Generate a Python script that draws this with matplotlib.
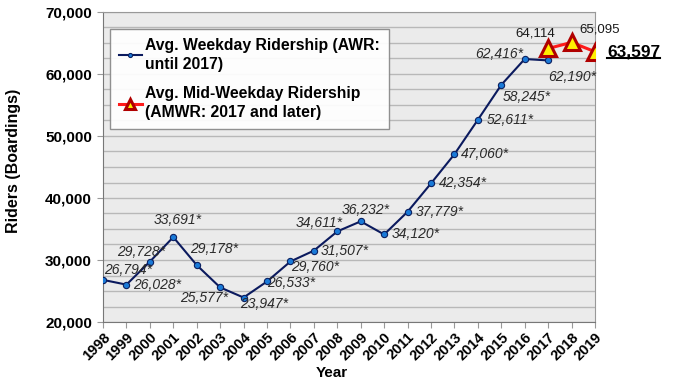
import matplotlib
matplotlib.use("Agg")
from matplotlib import pyplot as plt
from matplotlib.lines import Line2D
from matplotlib.ticker import MultipleLocator, FuncFormatter

plt.rcParams['font.family'] = ['Liberation Sans', 'DejaVu Sans']

# average weekday ridership, 1998-2017
awr_years = list(range(1998, 2018))
awr_values = [26794, 26028, 29728, 33691, 29178, 25577, 23947, 26533, 29760, 31507,
              34611, 36232, 34120, 37779, 42354, 47060, 52611, 58245, 62416, 62190]

# average mid-weekday ridership, 2017-2019
amwr_years = [2017, 2018, 2019]
amwr_values = [64114, 65095, 63597]

year_ticks = list(range(1998, 2020))

# label offsets in pixels (dx, dy), one per point
awr_offsets = [(25, 10), (31, 0), (-9, 10), (4, 17), (17, 16), (-16, -11), (21, -6),
               (24, -2), (25, -6), (31, 0), (-18, 8), (5, 11), (32, 0), (32, 0),
               (32, 0), (30, 0), (32, 0), (25, -12), (-25, 5), (24, -17)]
amwr_offsets = [(-13, 15), (28, 13)]

fig = plt.figure(figsize=(6.78, 3.81), dpi=100)
ax = fig.add_axes([103/678, 1 - 322/381, 492/678, 310/381])
ax.set_facecolor("#ebebeb")

ax.plot(awr_years, awr_values, color="#0b1a5e", lw=1.5, marker="o", ms=4.5,
        mfc="#1a7ad8", mec="#0b2060", mew=0.8, zorder=3,
        label="Avg. Weekday Ridership (AWR:\nuntil 2017)")
ax.plot(amwr_years, amwr_values, color="#ff1a1a", lw=2.2, marker="^", ms=11,
        mfc="#ffee00", mec="#b00000", mew=2.2, zorder=4,
        label="Avg. Mid-Weekday Ridership\n(AMWR: 2017 and later)")

for x, y, (dx, dy) in zip(awr_years, awr_values, awr_offsets):
    ax.annotate(f"{y:,}*", (x, y), xytext=(dx, dy), textcoords="offset pixels",
                ha="center", va="center", fontsize=10, style="italic",
                color="#2a2a2a", zorder=5)
for x, y, (dx, dy) in zip(amwr_years[:2], amwr_values[:2], amwr_offsets):
    ax.annotate(f"{y:,}", (x, y), xytext=(dx, dy), textcoords="offset pixels",
                ha="center", va="center", fontsize=9.5, color="#1a1a1a", zorder=5)
last = ax.annotate(f"{amwr_values[-1]:,}", (amwr_years[-1], amwr_values[-1]),
                   xytext=(12, 0), textcoords="offset pixels", ha="left", va="center",
                   fontsize=12.5, fontweight="bold", color="black",
                   annotation_clip=False, zorder=5)

ax.set_xlim(1998, 2019)
ax.set_ylim(20000, 70000)
ax.set_xticks(year_ticks)
ax.set_xticklabels([str(y) for y in year_ticks], rotation=45, ha="right",
                   rotation_mode="anchor", fontsize=10.5, fontweight="bold")
ax.yaxis.set_major_locator(MultipleLocator(10000))
ax.yaxis.set_minor_locator(MultipleLocator(2500))
ax.yaxis.set_major_formatter(FuncFormatter(lambda v, p: f"{int(v):,}"))
for lab in ax.get_yticklabels():
    lab.set_fontsize(11)
    lab.set_fontweight("bold")
ax.tick_params(axis="x", length=4, color="#999999", pad=2)
ax.tick_params(axis="y", which="major", length=4, color="#999999", pad=4)
ax.tick_params(axis="y", which="minor", length=0)
ax.grid(axis="y", which="both", color="#b8b8b8", lw=1)
ax.set_axisbelow(True)
for side in ["left", "bottom"]:
    ax.spines[side].set_color("#777777")
for side in ["top", "right"]:
    ax.spines[side].set_color("#999999")

ax.set_ylabel("Riders (Boardings)", fontsize=11.5, fontweight="bold")
ax.yaxis.set_label_coords(-0.166, 0.519)
fig.text(332/678, 1 - 380/381, "Year", ha="center", va="bottom",
         fontsize=11, fontweight="bold")

leg = ax.legend(loc="upper left", bbox_to_anchor=(110/678, 1 - 29/381),
                bbox_transform=fig.transFigure, prop={"weight": "bold", "size": 11.3},
                handlelength=1.5, handletextpad=0.2, labelspacing=0.9,
                borderpad=0.55, borderaxespad=0, fancybox=False, markerscale=0.65,
                framealpha=0.92, edgecolor="#888888", facecolor="white")
leg.get_frame().set_linewidth(1)
for t in leg.get_texts():
    t.set_linespacing(1.35)

# underline the last value
fig.canvas.draw()
bb = last.get_window_extent().transformed(fig.transFigure.inverted())
fig.add_artist(Line2D([bb.x0, bb.x1], [bb.y0 + 0.002, bb.y0 + 0.002],
                      transform=fig.transFigure, color="black", lw=1.5))

fig.savefig("out.png", dpi=100)
